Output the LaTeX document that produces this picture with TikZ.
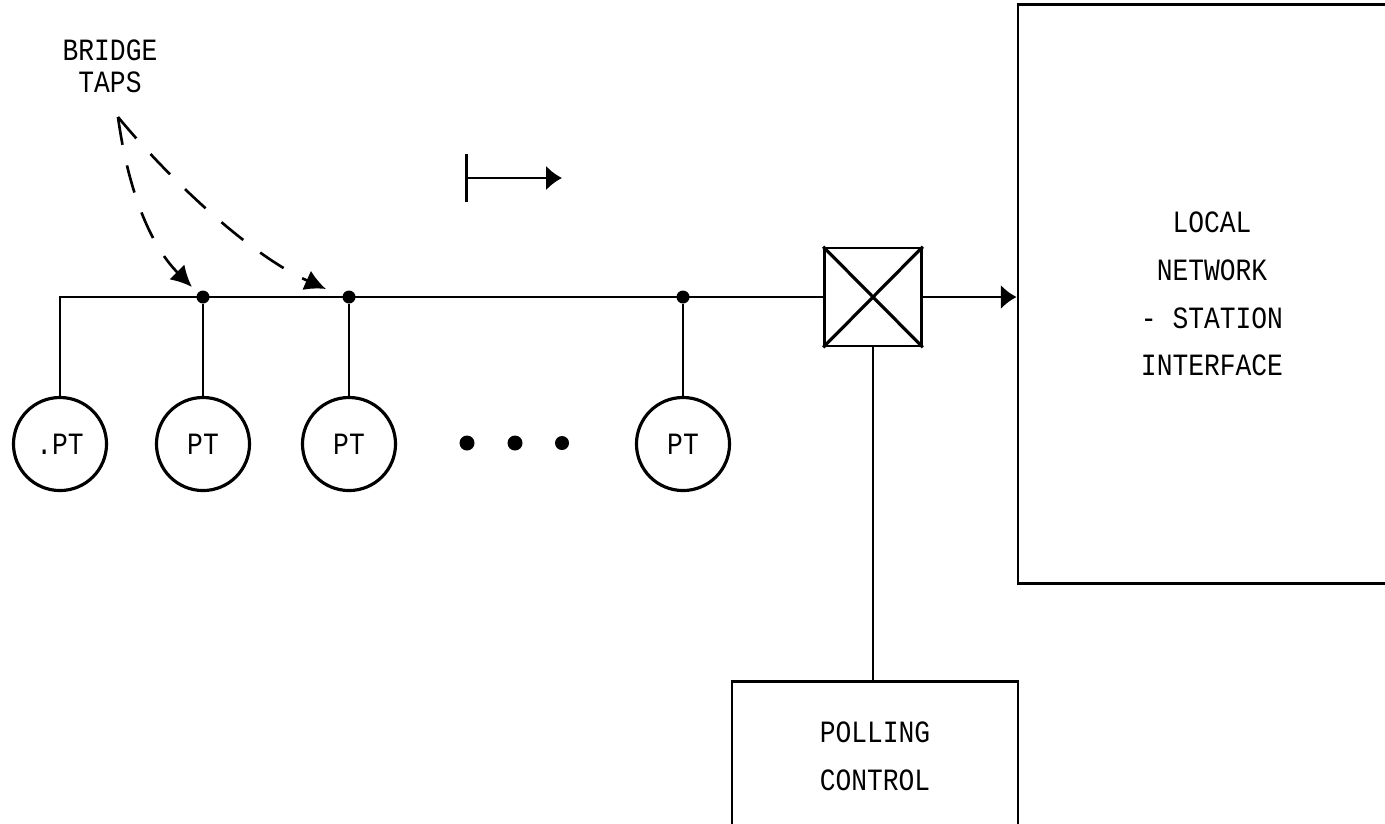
\documentclass[tikz,border=0pt]{standalone}
\usepackage{fontspec}
\newfontfamily\machine[FakeStretch=0.85]{Liberation Mono}
\usetikzlibrary{arrows.meta}
\begin{document}
\begin{tikzpicture}[x=0.01cm,y=-0.01cm]
	% Styles
	\tikzstyle{ligne}=[line width=0.75pt]
	\tikzstyle{fleche}=[-{Latex[length=4.5pt,width=7pt]},line width=0.75pt]
	\tikzstyle{tirets}=[-{Latex[length=6pt,width=6pt]},line width=0.75pt,dash pattern=on 8pt off 6pt]
	\tikzstyle{poste}=[circle,draw,line width=0.9pt,minimum size=0.93cm,inner sep=0pt,font=\machine\fontsize{8.8}{10}\selectfont]
	\tikzstyle{boite}=[rectangle,draw,line width=0.75pt,inner sep=0pt,align=center,font=\machine\fontsize{8.8}{13.6}\selectfont]
	\tikzstyle{point}=[circle,fill,inner sep=0pt,minimum size=0.13cm]
	\tikzstyle{commentaire}=[align=center,inner sep=0pt,font=\machine\fontsize{8.8}{9.1}\selectfont]
	% Cadre
	\useasboundingbox (0,0) rectangle (1385,823);
	% Dimensions
	\def\NiveauBus{297}
	\def\NiveauPostes{444}
	% Noeuds
	\node[poste] (PTa) at (60,\NiveauPostes) {.PT};
	\node[poste] (PTb) at (203,\NiveauPostes) {PT};
	\node[poste] (PTc) at (349,\NiveauPostes) {PT};
	\node[poste] (PTd) at (683,\NiveauPostes) {PT};
	\node[point] (Tb) at (203,\NiveauBus) {};
	\node[point] (Tc) at (349,\NiveauBus) {};
	\node[point] (Td) at (683,\NiveauBus) {};
	\node[point,minimum size=0.15cm] (Suite1) at (467,443) {};
	\node[point,minimum size=0.15cm] (Suite2) at (515,443) {};
	\node[point,minimum size=0.14cm] (Suite3) at (562,443) {};
	\node[boite,minimum width=0.97cm,minimum height=0.98cm] (Aig) at (873,\NiveauBus) {};
	\node[boite,minimum width=3.88cm,minimum height=5.79cm] (Interface) at (1212,294) {LOCAL\\NETWORK\\- STATION\\INTERFACE};
	\node[boite,minimum width=2.86cm,minimum height=1.49cm] (Polling) at (875,756) {POLLING\\CONTROL};
	\node[commentaire] (Taps) at (110,66) {BRIDGE\\TAPS};
	\coordinate (Pointe) at (118,117);
	\coordinate (FinB) at (192,287);
	\coordinate (FinC) at (326,289);
	\coordinate (SensA) at (465,178);
	\coordinate (SensB) at (562,178);
	% Arcs
	\draw[ligne] (PTa.north) |- (Aig.west);
	\draw[ligne] (Tb) -- (PTb);
	\draw[ligne] (Tc) -- (PTc);
	\draw[ligne] (Td) -- (PTd);
	\draw[line width=0.9pt] (Aig.north west) -- (Aig.south east) (Aig.south west) -- (Aig.north east);
	\draw[fleche] (Aig.east) -- (Aig.east -| Interface.west);
	\draw[ligne] (Aig.south) -- (Aig.south |- Polling.north);
	\draw[{Bar[width=13.6pt]}-{Latex[length=4.5pt,width=7pt]},line width=0.75pt] (SensA) -- (SensB);
	\draw[tirets] (Pointe) .. controls (128,190) and (150,245) .. (FinB);
	\draw[tirets] (Pointe) .. controls (170,180) and (250,255) .. (FinC);
\end{tikzpicture}
\end{document}
